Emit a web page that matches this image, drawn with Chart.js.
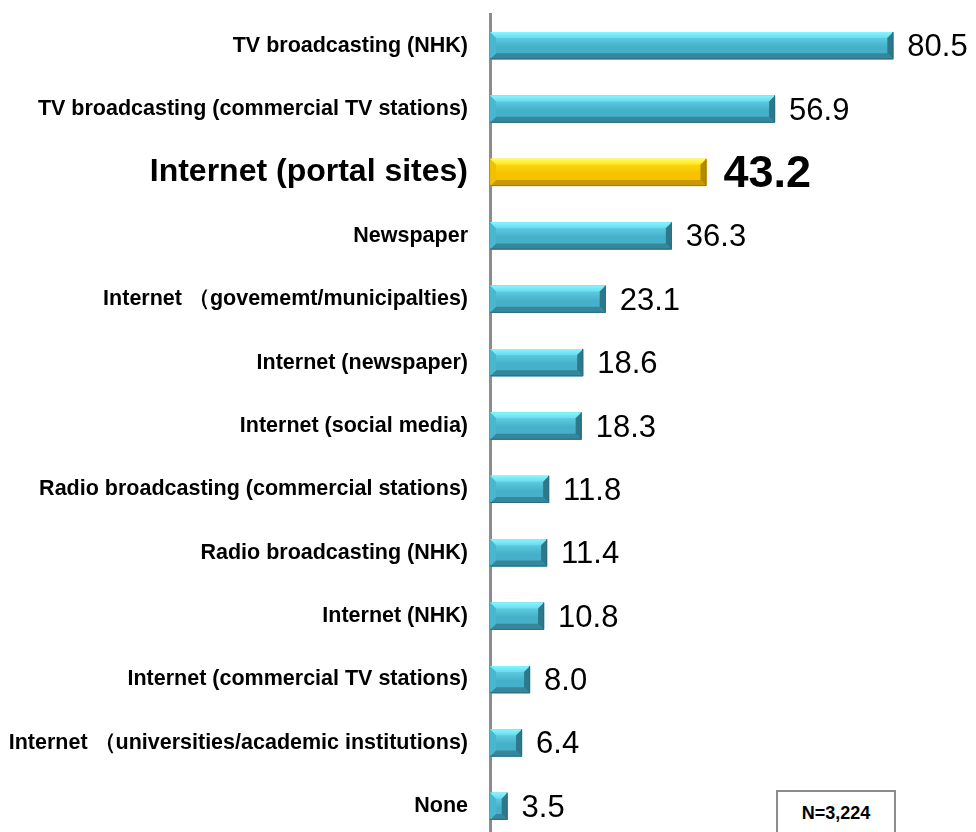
<!DOCTYPE html>
<html>
<head>
  <meta charset="utf-8">
  <title>Information sources</title>
  <script src="https://cdn.jsdelivr.net/npm/chart.js"></script>
  <style>
    body { margin: 0; overflow: hidden; background: #fff; }
    #wrap { position: relative; width: 976px; height: 838px; }
    #nbox {
      position: absolute; left: 776px; top: 790px; width: 120px; height: 50px;
      border: 2px solid #8c8c8c; box-sizing: border-box; background: #fff;
      font: bold 18px "Liberation Sans", Arial, sans-serif; color: #000;
      text-align: center; padding-top: 11px;
    }
  </style>
</head>
<body>
  <div id="wrap">
    <canvas id="chart"></canvas>
    <div id="nbox">N=3,224</div>
  </div>
  <script>
    const categories = [
      "TV broadcasting (NHK)",
      "TV broadcasting (commercial TV stations)",
      "Internet (portal sites)",
      "Newspaper",
      "Internet \uFF08govememt/municipalties)",
      "Internet (newspaper)",
      "Internet (social media)",
      "Radio broadcasting (commercial stations)",
      "Radio broadcasting (NHK)",
      "Internet (NHK)",
      "Internet (commercial TV stations)",
      "Internet \uFF08universities/academic institutions)",
      "None"
    ];
    const values = [80.5, 56.9, 43.2, 36.3, 23.1, 18.6, 18.3, 11.8, 11.4, 10.8, 8.0, 6.4, 3.5];
    const highlighted = [2];

    const FONT = '"Liberation Sans", Arial, sans-serif';
    const BLUE = { top: "#86f6ff", face1: "#6adbee", face2: "#45b0c9", bottom: "#36879b", edge: "#2c6e80", right: "#2d788b", left: "#4ab7d0" };
    const GOLD = { top: "#ffff60", face1: "#ffe21a", face2: "#f7c200", bottom: "#c99a08", edge: "#a47c06", right: "#b38a06", left: "#f2c000" };

    // bevelled look on top of each bar, using the element geometry from Chart.js
    const bevelBars = {
      id: "bevelBars",
      afterDatasetsDraw(chart) {
        const ctx = chart.ctx;
        const meta = chart.getDatasetMeta(0);
        meta.data.forEach((bar, i) => {
          const p = bar.getProps(["x", "y", "base", "height"], true);
          const x0 = Math.min(p.base, p.x), x1 = Math.max(p.base, p.x);
          const y0 = p.y - p.height / 2, y1 = p.y + p.height / 2;
          const c = highlighted.includes(i) ? GOLD : BLUE;
          const b = Math.min(6, (x1 - x0) / 3);
          const bv = 6;
          ctx.save();
          // face
          const g = ctx.createLinearGradient(0, y0, 0, y1);
          g.addColorStop(0, c.face1);
          g.addColorStop(0.55, c.face2);
          g.addColorStop(1, c.face2);
          ctx.fillStyle = g;
          ctx.fillRect(x0, y0, x1 - x0, y1 - y0);
          // top bevel
          const gt = ctx.createLinearGradient(0, y0, 0, y0 + bv);
          gt.addColorStop(0, c.top);
          gt.addColorStop(1, c.face1);
          ctx.fillStyle = gt;
          ctx.beginPath();
          ctx.moveTo(x0, y0); ctx.lineTo(x1, y0); ctx.lineTo(x1 - b, y0 + bv); ctx.lineTo(x0 + b, y0 + bv);
          ctx.closePath(); ctx.fill();
          // bottom bevel
          ctx.fillStyle = c.bottom;
          ctx.beginPath();
          ctx.moveTo(x0, y1); ctx.lineTo(x1, y1); ctx.lineTo(x1 - b, y1 - bv); ctx.lineTo(x0 + b, y1 - bv);
          ctx.closePath(); ctx.fill();
          // left bevel
          ctx.fillStyle = c.left;
          ctx.beginPath();
          ctx.moveTo(x0, y0); ctx.lineTo(x0 + b, y0 + bv); ctx.lineTo(x0 + b, y1 - bv); ctx.lineTo(x0, y1);
          ctx.closePath(); ctx.fill();
          // right bevel
          ctx.fillStyle = c.right;
          ctx.beginPath();
          ctx.moveTo(x1, y0); ctx.lineTo(x1, y1); ctx.lineTo(x1 - b, y1 - bv); ctx.lineTo(x1 - b, y0 + bv);
          ctx.closePath(); ctx.fill();
          // outline edges
          ctx.strokeStyle = c.edge;
          ctx.lineWidth = 1;
          ctx.beginPath();
          ctx.moveTo(x0, y1 - 0.5); ctx.lineTo(x1 - 0.5, y1 - 0.5); ctx.lineTo(x1 - 0.5, y0);
          ctx.stroke();
          ctx.restore();
        });
      }
    };

    const valueLabels = {
      id: "valueLabels",
      afterDatasetsDraw(chart) {
        const ctx = chart.ctx;
        const meta = chart.getDatasetMeta(0);
        ctx.save();
        ctx.fillStyle = "#000";
        ctx.textAlign = "left";
        ctx.textBaseline = "middle";
        meta.data.forEach((bar, i) => {
          const p = bar.getProps(["x", "y"], true);
          const hi = highlighted.includes(i);
          ctx.font = hi ? "bold 45px " + FONT : "31px " + FONT;
          ctx.fillText(values[i].toFixed(1), p.x + (hi ? 17 : 14), p.y + 2);
        });
        ctx.restore();
      }
    };

    new Chart(document.getElementById("chart"), {
      type: "bar",
      data: {
        labels: categories,
        datasets: [{
          data: values,
          backgroundColor: values.map((v, i) => highlighted.includes(i) ? GOLD.face2 : BLUE.face2),
          borderWidth: 0,
          barPercentage: 0.43,
          categoryPercentage: 1
        }]
      },
      options: {
        indexAxis: "y",
        responsive: true,
        maintainAspectRatio: false,
        animation: false,
        layout: { padding: { top: 14, right: 0, bottom: 0, left: 0 } },
        plugins: { legend: { display: false }, tooltip: { enabled: false } },
        scales: {
          x: { display: false, min: 0, max: 97 },
          y: {
            afterFit(scale) {
              scale.width = 490;
              scale.paddingTop = 0;
              scale.paddingBottom = 0;
            },
            grid: { display: false, drawTicks: false },
            border: { display: true, color: "#8c8c8c", width: 3 },
            ticks: {
              color: "#000",
              padding: 22,
              font: ctx => highlighted.includes(ctx.index)
                ? { family: FONT, size: 32, weight: "bold" }
                : { family: FONT, size: 21.5, weight: "bold" }
            }
          }
        }
      },
      plugins: [bevelBars, valueLabels]
    });
  </script>
</body>
</html>
